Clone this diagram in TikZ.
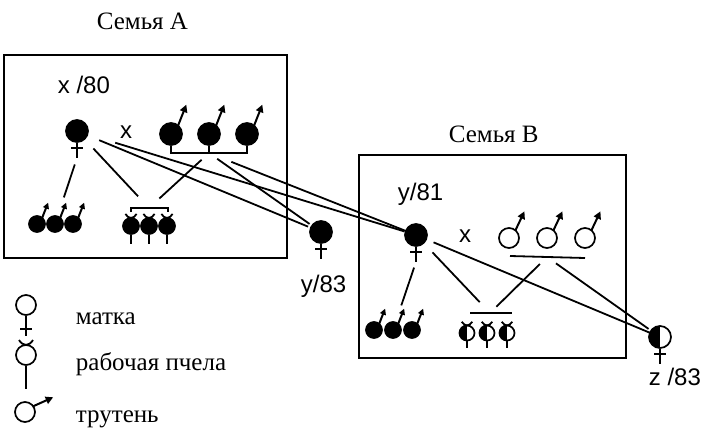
\documentclass[tikz,border=0pt]{standalone}
\usepackage{fontspec}
\setmainfont{Liberation Serif}
\setsansfont{Liberation Sans}
\usetikzlibrary{arrows.meta}

\tikzset{
  bee r/.store in=\beer, bee r=11,
  bee stem/.store in=\beestem, bee stem=15,
  bee bar/.store in=\beebar, bee bar=6,
  bee angle/.store in=\beeangle, bee angle=50,
  bee ax/.store in=\beeax, bee ax={0.75*\beer},
  bee ay/.store in=\beeay, bee ay={-1.9*\beer},
  bee tip/.store in=\beetip, bee tip=7.5pt,
  bee/.style={circle, draw, line width=1.7pt, inner sep=0pt, minimum size=2*\beer pt},
  beefull/.style={fill=black},
  beeopen/.style={fill=white},
  beehalf/.style={fill=white, path picture={\fill[black] (path picture bounding box.south west) rectangle (path picture bounding box.north);}},
  queen/.pic={
    \node[bee,#1] (-c) at (0,0) {};
    \draw (-c.south) -- ++(0,\beestem) coordinate (-b);
    \draw (-6,\beer+\beebar) -- (6,\beer+\beebar);
  },
  drone/.pic={
    \node[bee,#1] (-c) at (0,0) {};
    \draw[line width=2pt, -{Triangle[length=\beetip,width=\beetip]}] (\beeangle:\beer pt) -- ++(\beeax,\beeay) coordinate (-t);
  },
  worker/.pic={
    \node[bee,#1] (-c) at (0,0) {};
    \draw (-0.7*\beer,-1.5*\beer) .. controls (-0.3*\beer,-0.85*\beer) and (0.3*\beer,-0.85*\beer) .. (0.7*\beer,-1.5*\beer);
    \draw (-c.south) -- ++(0,\beestem) coordinate (-b);
  },
  title/.style={font=\fontsize{25}{30}\selectfont, inner sep=0pt},
  lab/.style={font=\sffamily\fontsize{24}{28}\selectfont, inner sep=0pt},
}

\begin{document}
\begin{tikzpicture}[x=1pt, y=-1pt, line width=1.8pt]
  \useasboundingbox (0,0) rectangle (703,428);

  % Семья А
  \node[title, anchor=base west] (famA) at (96,30) {Семья А};
  \draw[line width=1.4pt] (4,55) rectangle (287,258);
  \node[lab, anchor=base west] (labA) at (57,93) {x /80};
  \pic (qA) at (77,131) {queen=beefull};
  \node[lab] (xA) at (126,132) {x};
  \foreach \i/\x in {1/171,2/209,3/247}
    \pic (dA\i) at (\x,134) {drone=beefull};
  \coordinate (dAbar) at (209,153);
  \draw (dA1-c.south) |- (dAbar) -| (dA3-c.south);
  \draw (dA2-c.south) -- (dAbar);
  \foreach \i/\x in {1/37,2/55,3/73}
    \pic[bee r=8, bee tip=6pt] (dAo\i) at (\x,224) {drone=beefull};
  \foreach \i/\x in {1/131,2/149,3/167}
    \pic[bee r=8, bee stem=9] (wA\i) at (\x,226) {worker=beefull};
  \coordinate (wAbar) at (149,208);
  \draw (131,212) -- (131,208) -- (168,208) -- (168,212);

  \pic (qY) at (321,232) {queen=beefull};
  \node[lab, anchor=base west] (labY) at (300,292) {y/83};

  % Семья В
  \node[title, anchor=base west] (famB) at (448,142) {Семья В};
  \draw[line width=1.4pt] (359,155) rectangle (626,358);
  \node[lab, anchor=base west] (labB) at (397,200) {y/81};
  \pic (qB) at (416,235) {queen=beefull};
  \node[lab] (xB) at (465,236) {x};
  \foreach \i/\x in {1/509,2/547,3/585}
    \pic[bee r=10, bee ax=9, bee ay=-19] (dB\i) at (\x,238) {drone=beeopen};
  \coordinate (dBbar) at (547,257);
  \draw (510,256) -- (585,258);
  \foreach \i/\x in {1/374,2/393,3/412}
    \pic[bee r=8, bee tip=6pt] (dBo\i) at (\x,330) {drone=beefull};
  \foreach \i/\x in {1/467,2/487,3/507}
    \pic[bee r=7.5, bee stem=7] (wB\i) at (\x,333) {worker=beehalf};
  \coordinate (wBbar) at (490,313);
  \draw (470,313) -- (512,313);

  \pic (qZ) at (660,337) {queen=beehalf};
  \node[lab, anchor=base west] (labZ) at (648,385) {z /83};

  % connectors
  \draw[shorten <=7pt, shorten >=28pt] (qA-b) -- (dAo2-c.center);
  \draw[shorten <=24pt, shorten >=16pt] (qA-c.center) -- (wAbar);
  \draw[shorten <=10pt, shorten >=14pt] (dAbar) -- (wAbar);
  \draw[shorten <=24pt, shorten >=14pt] (qA-c.center) -- (qY-c.center);
  \draw[shorten <=40pt, shorten >=12pt] (qA-c.center) -- (qB-c.center);
  \draw[shorten <=10pt, shorten >=14pt] (dAbar) -- (qY-c.center);
  \draw[shorten <=24pt, shorten >=12pt] (dAbar) -- (qB-c.center);

  \draw[shorten <=6pt, shorten >=26pt] (qB-b) -- (dBo2-c.center);
  \draw[shorten <=24pt, shorten >=15pt] (qB-c.center) -- (wBbar);
  \draw[shorten <=10pt, shorten >=9pt] (dBbar) -- (wBbar);
  \draw[shorten <=19pt, shorten >=11pt] (qB-c.center) -- (qZ-c.center);
  \draw[shorten <=11pt, shorten >=14pt] (dBbar) -- (qZ-c.center);

  % legend
  \pic[bee r=10, bee stem=20, bee bar=14] (lgQ) at (26,305) {queen=beeopen};
  \pic[bee r=10, bee stem=23] (lgW) at (26,355) {worker=beeopen};
  \pic[bee r=10, bee angle=35, bee ax=20, bee ay=-9] (lgD) at (25,412) {drone=beeopen};
  \node[title, anchor=base west] (lgQt) at (75,324) {матка};
  \node[title, anchor=base west] (lgWt) at (75,370) {рабочая пчела};
  \node[title, anchor=base west] (lgDt) at (75,422) {трутень};

\end{tikzpicture}
\end{document}
